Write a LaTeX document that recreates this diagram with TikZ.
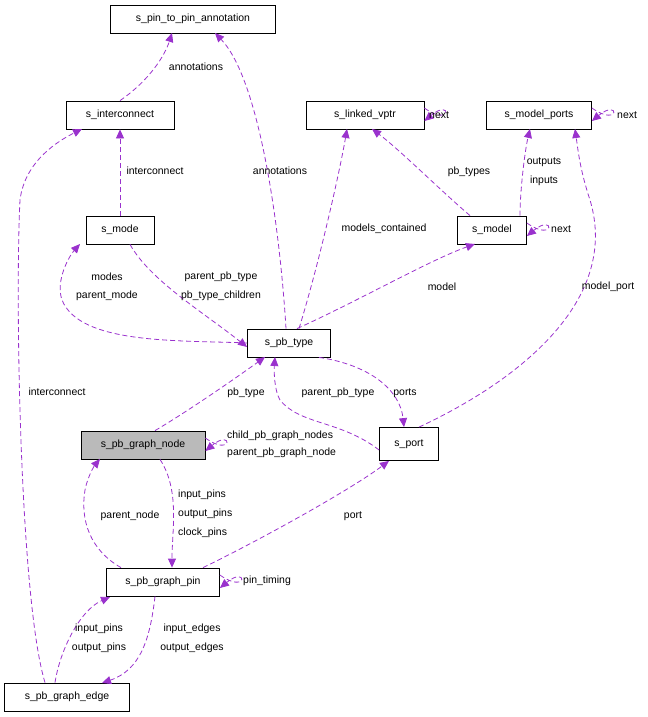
\documentclass[tikz,border=0pt]{standalone}
\usepackage{fontspec}
\setmainfont{Liberation Sans}
\usetikzlibrary{arrows.meta}
\definecolor{ed}{HTML}{9A32CD}
\tikzset{
  cls/.style={draw,thick,fill=white,minimum height=28bp,inner xsep=6bp,font=\fontsize{10.5}{12}\selectfont},
  dep/.style={draw=ed,dashed,thick,dash pattern=on 5bp off 3bp,-{Triangle[length=9bp,width=8bp,fill=ed]}},
  lab/.style={font=\fontsize{10.5}{12}\selectfont,inner sep=1bp}
}
\begin{document}
\begin{tikzpicture}[x=1bp,y=-1bp]
\useasboundingbox (0,0) rectangle (648,717);
\node[cls,minimum width=165bp] (pp) at (193,19) {s\_pin\_to\_pin\_annotation};
\node[cls,minimum width=108bp] (ic) at (120,115) {s\_interconnect};
\node[cls,minimum width=118bp] (lv) at (365,115) {s\_linked\_vptr};
\node[cls,minimum width=105bp] (mp) at (539,115) {s\_model\_ports};
\node[cls,minimum width=68bp] (mo) at (120,230) {s\_mode};
\node[cls,minimum width=69bp] (md) at (492,230) {s\_model};
\node[cls,minimum width=83bp] (pt) at (289,343) {s\_pb\_type};
\node[cls,minimum width=124bp,fill=black!27] (gn) at (143,445) {s\_pb\_graph\_node};
\node[cls,minimum width=59bp,minimum height=33bp] (po) at (409,444) {s\_port};
\node[cls,minimum width=113bp] (gp) at (163,582) {s\_pb\_graph\_pin};
\node[cls,minimum width=125bp] (ge) at (67,697) {s\_pb\_graph\_edge};

\draw[dep] (ic.north) .. controls (150,80) and (165,55) .. (172,33);
\node[lab] at (196,67) {annotations};
\draw[dep] ([xshift=-3bp]pt.north) .. controls (280,230) and (260,80) .. (215,33);
\node[lab] at (280,171) {annotations};
\draw[dep] (mo.north) -- (ic.south);
\node[lab] at (155,171) {interconnect};
\draw[dep] ([xshift=-22bp]ge.north) .. controls (20,600) and (15,300) .. (20,200) .. controls (25,160) and (60,140) .. (82,129);
\node[lab] at (57,392) {interconnect};
\draw[dep] ([xshift=10bp]pt.north) .. controls (320,260) and (340,170) .. (347,129);
\node[lab] at (384,229) {models\_contained};
\draw[dep] ([xshift=-22bp]md.north) .. controls (440,190) and (400,150) .. (372,129);
\node[lab] at (469,172) {pb\_types};
\draw[dep] ([yshift=7bp]lv.east) .. controls (452,128) and (452,98) .. ([yshift=-6bp]lv.east);
\node[lab,anchor=west] at (428,115) {next};
\draw[dep] ([xshift=28bp]md.north) .. controls (520,190) and (525,150) .. (530,129);
\node[lab] at (544,162) {outputs};
\node[lab] at (544,181) {inputs};
\draw[dep] ([yshift=7bp]mp.east) .. controls (620,128) and (620,98) .. ([yshift=-6bp]mp.east);
\node[lab,anchor=west] at (616,115) {next};
\draw[dep] ([xshift=10bp]po.north) .. controls (520,380) and (620,300) .. (590,200) .. controls (580,170) and (578,150) .. (575,129);
\node[lab] at (608,287) {model\_port};
\draw[dep] ([yshift=7bp]md.east) .. controls (555,243) and (555,213) .. ([yshift=-6bp]md.east);
\node[lab,anchor=west] at (550,229) {next};
\draw[dep] ([xshift=8bp]pt.north) .. controls (360,300) and (430,260) .. (475,244);
\node[lab] at (442,287) {model};
\draw[dep] ([xshift=10bp]mo.south) .. controls (150,280) and (200,310) .. ([yshift=-4bp]pt.west);
\node[lab] at (221,277) {parent\_pb\_type};
\node[lab] at (221,296) {pb\_type\_children};
\draw[dep] (pt.west) .. controls (180,340) and (80,345) .. (62,300) .. controls (55,280) and (70,255) .. (80,244);
\node[lab] at (107,277) {modes};
\node[lab] at (107,296) {parent\_mode};
\draw[dep] ([xshift=12bp]gn.north) .. controls (190,410) and (240,375) .. (265,357);
\node[lab] at (246,393) {pb\_type};
\draw[dep] ([xshift=30bp]pt.south) .. controls (370,365) and (400,390) .. ([xshift=-5bp]po.north);
\node[lab] at (405,393) {ports};
\draw[dep] ([yshift=-6bp]po.west) .. controls (340,420) and (300,425) .. (280,400) .. controls (274,390) and (274,370) .. (275,357);
\node[lab] at (338,393) {parent\_pb\_type};
\draw[dep] ([yshift=7bp]gn.east) .. controls (233,458) and (233,428) .. ([yshift=-6bp]gn.east);
\node[lab,anchor=west] at (226,436) {child\_pb\_graph\_nodes};
\node[lab,anchor=west] at (226,453) {parent\_pb\_graph\_node};
\draw[dep] ([xshift=-42bp]gp.north) .. controls (90,550) and (80,520) .. (85,490) .. controls (88,475) and (95,465) .. (100,459);
\node[lab] at (130,516) {parent\_node};
\draw[dep] ([xshift=17bp]gn.south) .. controls (180,490) and (172,530) .. ([xshift=9bp]gp.north);
\node[lab,anchor=west] at (177,495) {input\_pins};
\node[lab,anchor=west] at (177,514) {output\_pins};
\node[lab,anchor=west] at (177,533) {clock\_pins};
\draw[dep] ([xshift=40bp]gp.north) .. controls (260,540) and (350,490) .. ([xshift=-20bp]po.south);
\node[lab] at (353,516) {port};
\draw[dep] ([yshift=7bp]gp.east) .. controls (248,595) and (248,565) .. ([yshift=-6bp]gp.east);
\node[lab,anchor=west] at (242,581) {pin\_timing};
\draw[dep] ([xshift=-12bp]ge.north) .. controls (60,650) and (80,610) .. (110,597);
\node[lab] at (99,629) {input\_pins};
\node[lab] at (99,648) {output\_pins};
\draw[dep] ([xshift=-8bp]gp.south) .. controls (150,640) and (140,670) .. (102,683);
\node[lab] at (192,629) {input\_edges};
\node[lab] at (192,648) {output\_edges};
\end{tikzpicture}
\end{document}
